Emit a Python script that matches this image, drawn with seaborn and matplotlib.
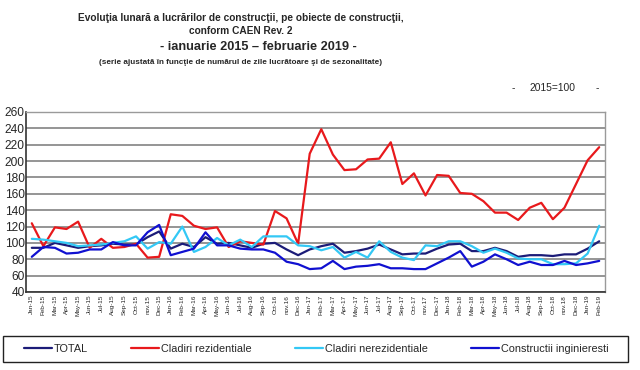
import matplotlib
matplotlib.use("Agg")
import matplotlib.pyplot as plt
from matplotlib.patches import Rectangle
import seaborn as sns
import pandas as pd
import numpy as np

months = ["Jan-15","Feb-15","Mar-15","Apr-15","May-15","Jun-15","Jul-15","Aug-15","Sep-15","Oct-15","nov.15","Dec-15",
          "Jan-16","Feb-16","Mar-16","Apr-16","May-16","Jun-16","Jul-16","Aug-16","Sep-16","Oct-16","nov.16","Dec-16",
          "Jan-17","Feb-17","Mar-17","Apr-17","May-17","Jun-17","Jul-17","Aug-17","Sep-17","Oct-17","nov.17","Dec-17",
          "Jan-18","Feb-18","Mar-18","Apr-18","May-18","Jun-18","Jul-18","Aug-18","Sep-18","Oct-18","nov.18","Dec-18",
          "Jan-19","Feb-19"]

total = [94, 94, 100, 97, 94, 96, 97, 99, 98, 98, 107, 114,
         93, 99, 95, 107, 99, 100, 97, 94, 99, 100, 92, 85,
         92, 96, 99, 88, 90, 93, 98, 92, 86, 87, 87, 93,
         98, 99, 90, 90, 94, 90, 83, 85, 85, 84, 86, 86,
         93, 102]
rezidentiale = [124, 96, 119, 117, 126, 94, 105, 94, 95, 99, 82, 83,
                135, 133, 121, 117, 119, 95, 102, 100, 98, 139, 130, 99,
                209, 239, 208, 189, 190, 202, 203, 223, 172, 185, 158, 183,
                182, 161, 160, 151, 137, 137, 128, 143, 149, 129, 143, 172,
                201, 217]
nerezidentiale = [105, 104, 102, 100, 96, 97, 98, 100, 102, 108, 93, 101,
                  99, 120, 89, 95, 106, 97, 104, 95, 108, 108, 108, 97,
                  96, 91, 95, 82, 89, 82, 102, 89, 82, 79, 97, 96,
                  102, 102, 96, 88, 93, 88, 81, 80, 80, 74, 74, 75,
                  87, 121]
inginieresti = [83, 95, 94, 87, 88, 92, 92, 101, 97, 97, 113, 122,
                85, 89, 93, 113, 97, 97, 93, 92, 92, 88, 77, 74,
                68, 69, 78, 68, 71, 72, 74, 69, 69, 68, 68, 75,
                82, 90, 71, 77, 86, 80, 73, 77, 73, 73, 78, 73,
                75, 78]

series_names = ["TOTAL", "Cladiri rezidentiale", "Cladiri nerezidentiale", "Constructii inginieresti"]
colors = ["#1c1c78", "#e8191c", "#33c8f5", "#1010d0"]

frames = []
for name, vals in zip(series_names, [total, rezidentiale, nerezidentiale, inginieresti]):
    frames.append(pd.DataFrame({"idx": np.arange(len(months)), "value": vals, "series": name}))
df = pd.concat(frames, ignore_index=True)

sns.set_theme(style="white")
plt.rcParams["font.family"] = ["Liberation Sans", "DejaVu Sans"]

fig = plt.figure(figsize=(6.4, 3.7), dpi=100)
ax = fig.add_axes([26/640, 1 - 292/370, (605 - 26)/640, (292 - 112)/370])

sns.lineplot(data=df, x="idx", y="value", hue="series", hue_order=series_names,
             palette=dict(zip(series_names, colors)), linewidth=1.6, ax=ax, legend=False,
             sort=False)

ax.set_xlim(-0.5, len(months) - 0.5)
ax.set_ylim(40, 260)
ax.set_yticks(np.arange(40, 261, 20))
ax.set_xticks(np.arange(len(months)))
ax.set_xticklabels(months, rotation=90, fontsize=4.6)
ax.tick_params(axis="y", labelsize=8.6, pad=1, length=0)
ax.tick_params(axis="x", pad=2, length=0)
ax.set_xlabel("")
ax.set_ylabel("")
ax.yaxis.grid(True, color="#8c8c8c", linewidth=1.3)
ax.set_axisbelow(True)
for s in ["top", "right"]:
    ax.spines[s].set_color("#9a9a9a")
    ax.spines[s].set_linewidth(1.0)
for s in ["left", "bottom"]:
    ax.spines[s].set_color("#333333")
    ax.spines[s].set_linewidth(1.2)

tx = 241 / 640
fig.text(tx, 1 - 18/370, "Evoluţia lunară a lucrărilor de construcţii, pe obiecte de construcţii,",
         ha="center", va="center", fontsize=7.3, fontweight="bold")
fig.text(tx, 1 - 31/370, "conform CAEN Rev. 2", ha="center", va="center", fontsize=7.3, fontweight="bold")
fig.text(258/640, 1 - 47/370, "- ianuarie 2015 – februarie 2019 -", ha="center", va="center",
         fontsize=9.2, fontweight="bold")
fig.text(tx, 1 - 62/370, "(serie ajustată în funcţie de numărul de zile lucrătoare şi de sezonalitate)",
         ha="center", va="center", fontsize=5.9, fontweight="bold")
fig.text(513/640, 1 - 88/370, "-", ha="center", va="center", fontsize=7.4)
fig.text(553/640, 1 - 88/370, "2015=100", ha="center", va="center", fontsize=7.4)
fig.text(597/640, 1 - 88/370, "-", ha="center", va="center", fontsize=7.4)

fig.patches.append(Rectangle((3/640, 1 - 362/370), 625/640, 26/370, transform=fig.transFigure,
                             fill=False, edgecolor="#222222", linewidth=1.0))
handles = [plt.Line2D([], [], color=c, linewidth=1.6) for c in colors]
leg = fig.legend(handles, series_names, loc="center", ncol=4,
                 bbox_to_anchor=(316/640, 1 - 349/370),
                 fontsize=7.8, frameon=False, handlelength=2.6,
                 handletextpad=0.15, columnspacing=4.0, borderaxespad=0, borderpad=0)

fig.savefig("out.png", dpi=100)
